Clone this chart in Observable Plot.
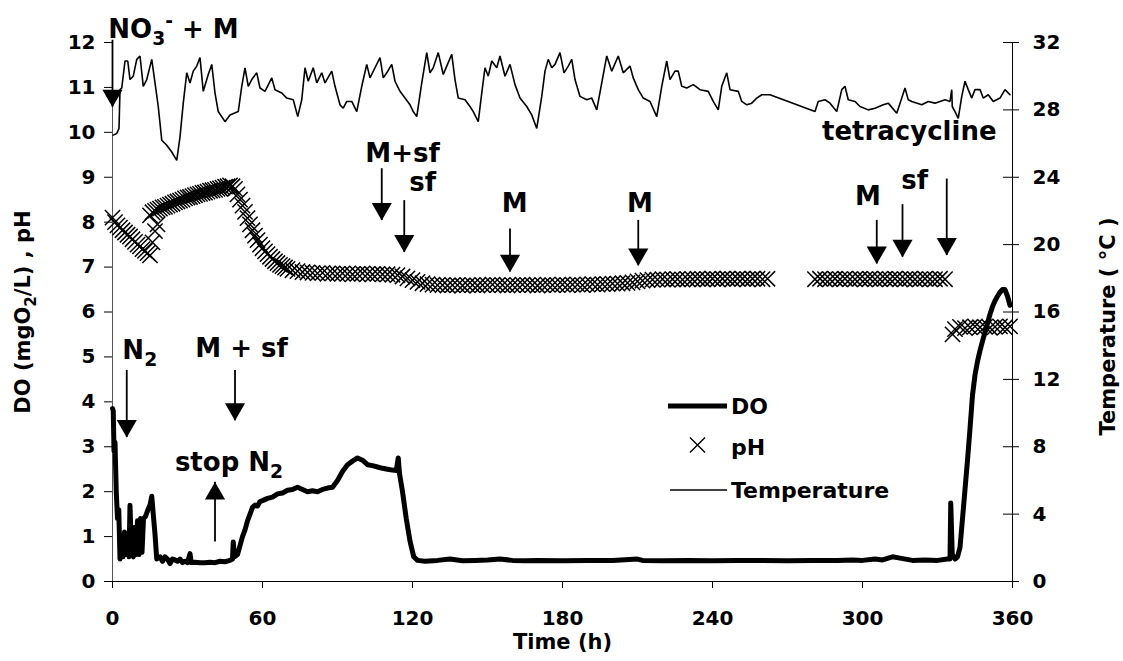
<!DOCTYPE html>
<html><head><meta charset="utf-8">
<script src="https://cdn.jsdelivr.net/npm/d3@7"></script>
<script src="https://cdn.jsdelivr.net/npm/@observablehq/plot@0.6"></script>
<style>body{margin:0;background:#fff}</style>
</head><body><div id="chart"></div>
<script>
// ---- data (time in h) ----
const temperature = [[0.3,26.5],[1.7,26.6],[2.6,26.9],[3.0,29.2],[3.7,29.3],[5.0,30.9],[6.1,30.9],[7.0,29.8],[8.3,30.0],[9.7,31.0],[11.0,31.2],[12.3,29.4],[13.7,29.8],[15.7,31.0],[17.0,29.6],[18.3,28.2],[19.7,26.2],[21.7,25.9],[23.7,25.5],[25.7,25.0],[27.0,26.4],[28.3,28.4],[29.7,30.2],[31.0,29.6],[32.3,30.3],[33.7,30.6],[35.0,31.1],[36.3,29.1],[38.3,30.1],[39.7,30.7],[41.0,29.0],[42.3,27.9],[45.0,27.3],[47.0,27.7],[50.3,27.9],[51.7,29.4],[53.0,30.5],[54.3,29.4],[55.7,29.8],[57.7,30.2],[59.0,29.3],[61.0,29.1],[63.7,29.9],[65.0,29.2],[67.7,29.0],[69.7,28.7],[72.3,28.6],[74.1,27.6],[75.7,28.6],[77.0,30.5],[78.3,29.7],[80.3,30.5],[81.7,29.6],[83.7,30.2],[85.0,29.6],[87.7,30.3],[89.0,29.4],[91.0,28.3],[92.3,28.1],[93.7,28.5],[95.7,28.5],[97.7,27.9],[99.7,29.4],[101.7,30.7],[103.0,29.9],[105.0,30.5],[107.0,31.1],[108.3,29.9],[109.7,30.2],[111.7,30.7],[113.0,29.7],[115.0,29.1],[117.0,28.7],[119.0,28.3],[120.3,27.9],[121.7,27.6],[123.7,29.6],[125.7,31.4],[127.0,30.2],[128.3,30.5],[130.3,31.4],[132.3,30.1],[133.7,30.6],[135.7,31.3],[137.0,29.8],[138.3,28.7],[141.0,28.6],[143.0,28.2],[144.3,27.9],[146.3,27.3],[147.7,29.0],[149.0,30.5],[150.3,30.0],[151.7,30.9],[153.7,30.5],[155.0,31.2],[157.0,30.0],[159.0,30.7],[161.0,29.5],[163.0,28.7],[165.7,28.2],[167.7,27.7],[169.7,26.9],[171.7,28.8],[173.0,30.3],[174.3,31.0],[175.7,30.5],[177.0,30.7],[179.0,31.4],[180.6,30.2],[182.3,30.6],[183.7,31.0],[185.0,29.8],[187.0,28.8],[189.7,28.6],[191.7,28.7],[193.7,28.0],[195.7,29.6],[197.7,31.2],[199.7,30.3],[202.3,31.2],[204.3,30.2],[207.0,30.6],[208.3,29.9],[210.3,29.2],[212.3,28.7],[215.0,28.5],[217.7,27.6],[219.7,29.4],[221.7,30.9],[223.0,29.8],[225.0,30.3],[226.3,30.3],[227.7,29.4],[229.7,29.3],[232.3,29.5],[235.0,29.2],[238.3,29.1],[240.3,28.5],[242.3,28.0],[243.7,29.4],[245.7,30.2],[247.0,29.2],[250.3,29.1],[251.7,28.5],[253.7,28.3],[255.7,28.4],[257.7,28.7],[259.7,28.9],[263.0,28.9],[281.0,27.9],[282.3,28.5],[285.0,28.6],[287.0,28.4],[289.7,27.9],[291.7,29.2],[293.0,29.4],[294.3,28.6],[297.0,28.5],[299.0,28.2],[302.3,28.0],[305.0,28.1],[308.3,28.3],[310.3,28.4],[313.7,27.8],[315.7,28.7],[317.0,29.3],[318.3,28.6],[319.7,28.5],[323.7,28.3],[326.3,28.5],[329.0,28.4],[333.0,28.6],[335.0,28.5],[335.7,29.2],[335.9,28.2],[337.0,27.9],[338.3,27.5],[339.7,28.8],[341.0,29.7],[342.3,29.2],[343.7,28.7],[345.0,29.2],[347.0,29.2],[348.3,28.7],[350.3,28.9],[352.3,28.5],[355.0,28.7],[357.0,29.2],[359.0,28.9]];

const pH = [[0,8.10],[1,8.00],[2,7.93],[3,7.88],[4,7.82],[5,7.77],[6,7.72],[7,7.68],[8,7.62],[9,7.56],[10,7.50],[11,7.46],[12,7.40],[13,7.36],[14,7.31],[15,7.26],
[16,7.55],[17,7.80],[18,7.95],
[15,8.15],[16,8.22],[17,8.25],[18,8.28],[19,8.30],[20,8.33],[21,8.34],[22,8.37],[23,8.39],[24,8.41],[25,8.44],[26,8.46],[27,8.48],[28,8.50],[29,8.53],[30,8.55],[31,8.56],[32,8.58],[33,8.60],[34,8.62],[35,8.63],[36,8.65],[37,8.66],[38,8.68],[39,8.70],[40,8.71],[41,8.72],[42,8.74],[43,8.75],[44,8.77],[45,8.79],[46,8.80],[47,8.82],[48,8.80],
[49,8.74],[50,8.62],[51,8.50],[52,8.37],[53,8.23],[54,8.09],[55,7.95],[56,7.82],[57,7.70],[58,7.60],[59,7.50],[60,7.42],[61,7.35],[62,7.29],[63,7.23],[64,7.18],[65,7.13],[66,7.09],[67,7.05],[68,7.02],[69,6.99],[70,6.96],
[72,6.93],[74,6.91],[76,6.89],[78,6.88],[80,6.87],[82,6.86],[84,6.87],[86,6.85],[88,6.86],[90,6.85],[92,6.86],[94,6.85],[96,6.84],[98,6.85],[100,6.86],[102,6.85],[104,6.84],[106,6.85],[108,6.84],[110,6.84],[112,6.83],[114,6.82],[116,6.79],[118,6.75],[120,6.71],[122,6.67],[124,6.64],[126,6.62],[128,6.61],[130,6.60],[132,6.60],[134,6.59],[136,6.60],[138,6.60],[140,6.59],[142,6.60],[144,6.60],[146,6.59],[148,6.60],[150,6.60],[152,6.61],[154,6.60],[156,6.60],[158,6.59],[160,6.60],[162,6.60],[164,6.61],[166,6.60],[168,6.60],[170,6.59],[172,6.60],[174,6.61],[176,6.60],[178,6.60],[180,6.61],[182,6.60],[184,6.61],[186,6.61],[188,6.60],[190,6.61],[192,6.62],[194,6.61],[196,6.62],[198,6.62],[200,6.63],[202,6.63],[204,6.64],[206,6.65],[208,6.66],[210,6.68],[212,6.70],[214,6.71],[216,6.72],[218,6.72],[220,6.73],[222,6.72],[224,6.73],[226,6.73],[228,6.72],[230,6.73],[232,6.73],[234,6.74],[236,6.73],[238,6.73],[240,6.74],[242,6.73],[244,6.74],[246,6.74],[248,6.73],[250,6.74],[252,6.74],[254,6.73],[256,6.74],[258,6.74],[260,6.73],[262,6.74],
[281,6.73],[283,6.74],[285,6.73],[287,6.73],[289,6.74],[291,6.73],[293,6.74],[295,6.73],[297,6.73],[299,6.74],[301,6.73],[303,6.74],[305,6.73],[307,6.73],[309,6.74],[311,6.73],[313,6.74],[315,6.73],[317,6.73],[319,6.74],[321,6.73],[323,6.73],[325,6.74],[327,6.73],[329,6.73],[331,6.74],[333,6.73],
[336,5.50],[337,5.62],[339,5.67],[341,5.64],[343,5.66],[345,5.68],[347,5.66],[349,5.67],[351,5.65],[353,5.67],[355,5.68],[357,5.66],[359,5.68]];

const dissolvedO2 = [[0,3.85],[0.3,3.8],[0.6,2.9],[1.0,3.1],[1.5,2.0],[2.0,1.4],[2.5,1.6],[3.0,0.5],[3.6,1.0],[4.2,0.55],[4.8,1.1],[5.4,0.6],[6.0,1.0],[6.6,0.55],[7.0,1.7],[7.6,0.6],[8.3,0.55],[8.8,1.2],[9.4,0.6],[10.0,1.35],[10.6,0.6],[11.2,1.4],[11.8,0.65],[12.4,1.4],[13.2,1.45],[14.2,1.6],[15.0,1.7],[15.7,1.9],[16.3,1.5],[17.0,1.05],[17.7,0.5],[19,0.55],[20,0.45],[21,0.55],[22,0.5],[23,0.4],[24,0.5],[25,0.48],[26,0.45],[27,0.5],[28,0.42],[29,0.45],[30,0.42],[31,0.62],[31.5,0.42],[33,0.43],[35,0.42],[37,0.42],[39,0.43],[41,0.42],[43,0.45],[45,0.44],[47,0.47],[48,0.5],[48.3,0.88],[48.8,0.55],[50,0.6],[51,0.8],[52,1.0],[53,1.15],[54,1.35],[55,1.5],[56,1.65],[57,1.7],[58,1.68],[59,1.78],[60,1.8],[62,1.85],[64,1.88],[66,1.95],[68,1.97],[70,2.03],[72,2.05],[74,2.1],[76,2.05],[78,2.0],[80,2.02],[82,2.0],[84,2.05],[86,2.08],[88,2.1],[90,2.25],[92,2.45],[94,2.6],[96,2.68],[98,2.75],[100,2.7],[102,2.6],[104,2.58],[106,2.55],[108,2.52],[110,2.5],[112,2.48],[113.5,2.47],[114.3,2.75],[114.8,2.4],[116,2.0],[117.5,1.4],[119,0.9],[120.5,0.55],[122,0.47],[125,0.45],[130,0.47],[135,0.5],[140,0.46],[145,0.47],[150,0.48],[155,0.5],[160,0.47],[165,0.46],[170,0.47],[180,0.46],[190,0.47],[200,0.47],[210,0.5],[212,0.47],[220,0.46],[230,0.47],[240,0.46],[250,0.47],[260,0.47],[270,0.46],[280,0.47],[290,0.47],[296,0.48],[300,0.47],[305,0.5],[308,0.48],[312,0.55],[315,0.52],[320,0.47],[325,0.48],[330,0.47],[334,0.5],[335,0.5],[335.3,1.75],[335.9,0.6],[337,0.5],[338,0.55],[339,0.76],[340,1.4],[341,2.05],[342,2.7],[343,3.4],[344,4.15],[345,4.6],[346,4.9],[347,5.14],[348,5.35],[349,5.55],[350,5.75],[351,5.95],[352,6.12],[353,6.25],[354,6.35],[355,6.44],[356,6.5],[357,6.5],[358,6.35],[359,6.15]];

const xTicks = [0, 60, 120, 180, 240, 300, 360];
const leftTicks = [0,1,2,3,4,5,6,7,8,9,10,11,12];
const tempTicks = [0,4,8,12,16,20,24,28,32];

// annotation arrows: time, start value, tip value (left-axis units)
const arrowTime = [0, 5.7, 49, 41, 107.7, 116.7, 159, 210.3, 305.7, 316, 333.7];
const arrowFrom = [12.05, 4.70, 4.70, 0.88, 9.19, 8.48, 7.85, 8.04, 8.04, 8.39, 8.96];
const arrowTo   = [10.56, 3.21, 3.58, 2.21, 8.04, 7.33, 6.89, 7.03, 7.07, 7.22, 7.26];

const labelText  = ["NO₃⁻ + M", "N₂", "M + sf", "stop N₂", "M+sf", "sf", "M", "M", "M", "sf", "tetracycline"];
const labelTime  = [24.4, 10.9, 51.6, 46.6, 116, 124.1, 160.9, 211, 302.2, 320.9, 318.7];
const labelValue = [12.11, 4.96, 4.99, 2.47, 9.33, 8.70, 8.22, 8.22, 8.39, 8.74, 9.83];

const legendNames = ["DO", "pH", "Temperature"];

// ---- chart ----
const toLeft = T => T * 12 / 32;
const FONT = "DejaVu Sans";
const idxArrows = d3.range(arrowTime.length);
const downIdx = idxArrows.filter(i => arrowTo[i] < arrowFrom[i]);
const upIdx = idxArrows.filter(i => arrowTo[i] > arrowFrom[i]);

const chart = Plot.plot({
  width: 1123, height: 661,
  marginLeft: 112, marginRight: 111, marginTop: 42, marginBottom: 80,
  x: {domain: [0, 360]},
  y: {domain: [0, 12]},
  style: {fontFamily: FONT, fontWeight: "bold", fontSize: "20px", background: "white", color: "black", overflow: "visible"},
  marks: [
    Plot.axisX(xTicks, {tickSize: 7, tickPadding: 22, label: null, fontSize: 20, fontWeight: "bold"}),
    Plot.axisY(leftTicks, {anchor: "left", tickSize: 8, tickPadding: 9, label: null, fontSize: 20, fontWeight: "bold"}),
    Plot.axisY(tempTicks.map(toLeft), {anchor: "right", tickSize: 6, tickPadding: 14, label: null, fontSize: 20, fontWeight: "bold",
      tickFormat: d => String(Math.round(d * 32 / 12))}),
    Plot.ruleY(tempTicks.map(toLeft), {y: d => d, insetLeft: 891, stroke: "black"}),
    Plot.ruleX([0], {stroke: "#555"}),
    Plot.ruleX([360], {stroke: "black"}),
    Plot.ruleY([0], {stroke: "black"}),
    // temperature (right axis)
    Plot.line(temperature, {x: d => d[0], y: d => toLeft(d[1]), stroke: "black", strokeWidth: 1.6, strokeLinejoin: "miter"}),
    // pH markers
    Plot.dot(pH, {x: d => d[0], y: d => d[1], symbol: "times", r: 7, stroke: "black", strokeWidth: 1.5}),
    // DO
    Plot.line(dissolvedO2, {x: d => d[0], y: d => d[1], stroke: "black", strokeWidth: 5, strokeLinejoin: "round"}),
    // arrows
    Plot.ruleX(idxArrows, {x: i => arrowTime[i], y1: i => arrowFrom[i], y2: i => arrowTo[i], stroke: "black", strokeWidth: 1.8}),
    Plot.dot(downIdx, {x: i => arrowTime[i], y: i => arrowTo[i], symbol: "triangle", r: 7.5, fill: "black", rotate: 180, dy: -11.5}),
    Plot.dot(upIdx, {x: i => arrowTime[i], y: i => arrowTo[i], symbol: "triangle", r: 7.5, fill: "black", dy: 11.5}),
    // annotation labels
    Plot.text(d3.range(labelText.length), {x: i => labelTime[i], y: i => labelValue[i], text: i => labelText[i],
      fontSize: 26, fontWeight: "bold", lineAnchor: "bottom", textAnchor: "middle", fill: "black"}),
    // axis titles
    Plot.text(["Time (h)"], {frameAnchor: "bottom", dy: 61, fontSize: 21, fontWeight: "bold", lineAnchor: "middle", textAnchor: "middle", fill: "black"}),
    Plot.text(["DO (mgO₂/L) , pH"], {frameAnchor: "left", dx: -89.5, rotate: -90, fontSize: 21, fontWeight: "bold", lineAnchor: "middle", textAnchor: "middle", fill: "black"}),
    Plot.text(["Temperature ( °C )"], {frameAnchor: "right", dx: 96, dy: 14.5, rotate: -90, fontSize: 21, fontWeight: "bold", lineAnchor: "middle", textAnchor: "middle", fill: "black"})
  ]
});

// ---- legend (inside plot area) ----
const svg = d3.select(chart);
const lg = svg.append("g").attr("font-family", FONT).attr("font-weight", "bold").attr("font-size", 22).attr("text-anchor", "start");
const rows = [406, 447, 490];
lg.append("line").attr("x1", 668).attr("x2", 727).attr("y1", rows[0]).attr("y2", rows[0]).attr("stroke", "black").attr("stroke-width", 5);
lg.append("path").attr("d", d3.symbol(d3.symbolTimes, 150)()).attr("transform", `translate(697.5,${rows[1] - 2})`).attr("fill", "none").attr("stroke", "black").attr("stroke-width", 1.4);
lg.append("line").attr("x1", 670).attr("x2", 727).attr("y1", rows[2]).attr("y2", rows[2]).attr("stroke", "black").attr("stroke-width", 1.5);
legendNames.forEach((n, i) => {
  lg.append("text").attr("x", 731).attr("y", rows[i]).attr("dy", "0.36em").attr("fill", "black").attr("text-anchor", "start").text(n);
});

document.getElementById("chart").appendChild(chart);

// ---- sub/superscripts as real tspans ----
const rich = {
  "NO₃⁻ + M": [["NO", 0], ["3", 1], ["-", -1], [" + M", 0]],
  "N₂": [["N", 0], ["2", 1]],
  "stop N₂": [["stop N", 0], ["2", 1]],
  "DO (mgO₂/L) , pH": [["DO (mgO", 0], ["2", 1], ["/L) , pH", 0]]
};
svg.selectAll("text").each(function () {
  const parts = rich[this.textContent];
  if (!parts) return;
  const fs = parseFloat(getComputedStyle(this).fontSize);
  const el = d3.select(this);
  el.text(null);
  let cur = 0;
  for (const [s, kind] of parts) {
    const target = kind === 1 ? 0.28 * fs : kind === -1 ? -0.42 * fs : 0;
    el.append("tspan").attr("dy", target - cur).attr("font-size", kind ? 0.72 * fs : fs).text(s);
    cur = target;
  }
});
</script>
</body></html>
